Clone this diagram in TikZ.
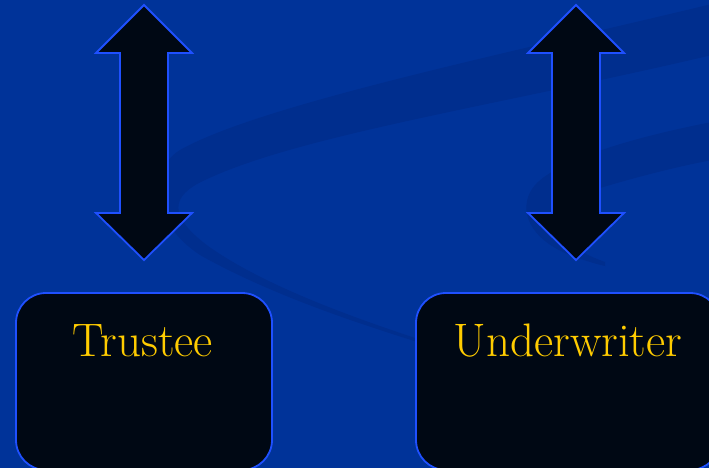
\documentclass[tikz,border=0pt]{standalone}
\definecolor{bgblue}{HTML}{003399}
\definecolor{bandblue}{HTML}{002E8E}
\definecolor{darkfill}{HTML}{000814}
\definecolor{edgeblue}{HTML}{1F50FF}
\definecolor{gold}{HTML}{FFCC00}
\tikzset{
  shapefill/.style={fill=darkfill, draw=edgeblue, line width=1.8pt, line join=miter},
  boxlabel/.style={anchor=base, text=gold, inner sep=0pt, font=\fontsize{47}{50}\selectfont},
  band/.style={fill=bandblue, draw=none}
}
\begin{document}
\begin{tikzpicture}[x=1pt,y=-1pt]
\useasboundingbox (0,0) rectangle (709,468);
\clip (0,0) rectangle (709,468);
\fill[bgblue] (0,0) rectangle (709,468);
% background swooshes
\path[band] (712,4) .. controls (500,55) and (260,105) .. (180,150)
  .. controls (148,170) and (150,222) .. (200,255)
  .. controls (280,300) and (380,330) .. (430,346)
  -- (430,343)
  .. controls (370,323) and (270,290) .. (208,246)
  .. controls (168,216) and (170,196) .. (205,180)
  .. controls (300,135) and (500,105) .. (712,55) -- cycle;
\path[band] (712,122) .. controls (640,136) and (560,158) .. (535,185)
  .. controls (518,205) and (525,235) .. (565,253)
  .. controls (580,259) and (592,263) .. (605,266)
  -- (605,262)
  .. controls (585,255) and (565,244) .. (560,232)
  .. controls (548,212) and (565,196) .. (600,188)
  .. controls (640,176) and (680,166) .. (712,160) -- cycle;
% double arrows
\draw[shapefill] (144,5) -- (192,53) -- (168,53) -- (168,213) -- (192,213) -- (144,260)
  -- (96,213) -- (120,213) -- (120,53) -- (96,53) -- cycle;
\draw[shapefill] (576,5) -- (624,53) -- (600,53) -- (600,213) -- (624,213) -- (576,260)
  -- (528,213) -- (552,213) -- (552,53) -- (528,53) -- cycle;
% boxes
\draw[shapefill, rounded corners=30pt] (16,293) rectangle (272,470);
\draw[shapefill, rounded corners=30pt] (416,293) rectangle (720,470);
\node[boxlabel] (trustee) at (143,356) {Trustee};
\node[boxlabel] (underwriter) at (568,356) {Underwriter};
\end{tikzpicture}
\end{document}
